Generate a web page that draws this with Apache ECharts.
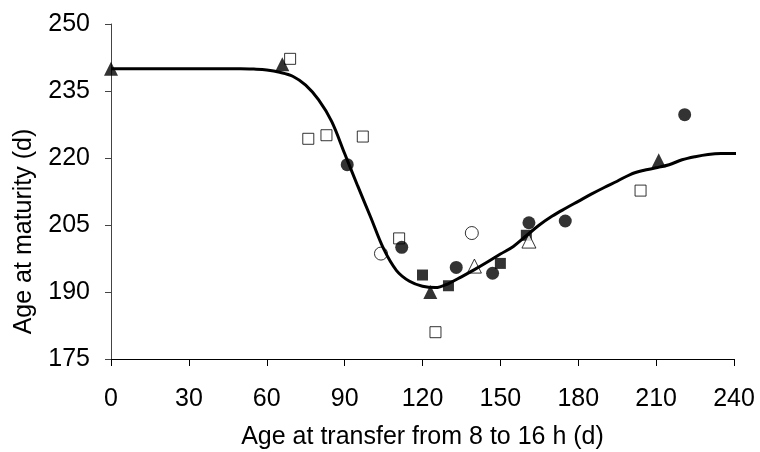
<!DOCTYPE html>
<html>
<head>
<meta charset="utf-8">
<script src="https://cdn.jsdelivr.net/npm/echarts@6/dist/echarts.min.js"></script>
<style>
  html, body { margin: 0; padding: 0; background: #fff; }
  #chart { width: 760px; height: 452px; }
</style>
</head>
<body>
<div id="chart"></div>
<script>
const xTicks = [0, 30, 60, 90, 120, 150, 180, 210, 240];
const yTicks = [175, 190, 205, 220, 235, 250];

const filledTriangle = [[0, 240], [66, 241], [123, 190], [211, 219.5]];
const openSquare = [[69, 242.2], [76, 224.3], [83, 225.1], [97, 224.8], [111, 202], [125, 181], [204, 212.7]];
const filledCircle = [[91, 218.5], [112, 200], [133, 195.5], [147, 194.2], [161, 205.5], [175, 205.9], [221, 229.7]];
const filledSquare = [[120, 193.8], [130, 191.4], [150, 196.4], [160, 202.7]];
const openCircle = [[104, 198.6], [139, 203.2]];
const openTriangle = [[140, 195.8], [161, 201.4]];

// fitted curve
const curveX = [0, 20, 40, 50, 55, 60, 65, 70, 75, 80, 85, 90, 95, 100, 105, 110, 115, 120, 125, 130, 135, 140, 145, 150, 155, 160, 165, 170, 175, 180, 185, 190, 195, 200, 205, 210, 215, 220, 225, 230, 235, 242];
const curveY = [240, 240, 240, 240, 239.9, 239.7, 239.2, 238.3, 236.3, 233, 228.2, 221, 213.8, 206.8, 199.7, 194.8, 192.4, 191.3, 191, 191.9, 193.4, 195, 196.7, 198.5, 200.2, 202.6, 205, 207, 208.7, 210.3, 211.9, 213.4, 214.8, 216.3, 217.2, 217.8, 218.5, 219.6, 220.3, 220.8, 221, 221];

const chart = echarts.init(document.getElementById('chart'));
const font = 'Liberation Sans, Arial, sans-serif';

function pts(name, data, symbol, size, filled) {
    return {
        name: name,
        type: 'scatter',
        data: data,
        symbol: symbol,
        symbolSize: size,
        z: 2,
        itemStyle: {
            color: filled ? '#000' : '#fff',
            borderColor: '#000',
            borderWidth: filled ? 0 : 1
        }
    };
}

const option = {
    animation: false,
    backgroundColor: '#fff',
    grid: { left: 111, right: 26, top: 24, bottom: 93, outerBoundsMode: 'none' },
    xAxis: {
        type: 'value',
        min: 0, max: 240, interval: 30,
        name: 'Age at transfer from 8 to 16 h (d)',
        nameLocation: 'middle',
        nameGap: 66,
        nameTextStyle: { fontFamily: font, fontSize: 25, color: '#000' },
        axisLine: { lineStyle: { color: '#000', width: 1 } },
        axisTick: { length: 7, lineStyle: { color: '#000' } },
        axisLabel: { margin: 28, fontFamily: font, fontSize: 25, color: '#000' },
        splitLine: { show: false }
    },
    yAxis: {
        type: 'value',
        min: 175, max: 250,
        name: 'Age at maturity (d)',
        nameLocation: 'middle',
        nameGap: 74,
        nameTextStyle: { fontFamily: font, fontSize: 25, color: '#000', padding: [0, 80, 0, 0] },
        axisLine: { show: true, lineStyle: { color: '#444', width: 1 } },
        axisTick: { show: true, length: 6, customValues: yTicks, lineStyle: { color: '#444' } },
        axisLabel: { margin: 21, fontFamily: font, fontSize: 25, color: '#000', customValues: yTicks },
        splitLine: { show: false }
    },
    series: [
        pts('open square', openSquare, 'rect', 11, false),
        pts('filled square', filledSquare, 'rect', 11, true),
        pts('filled circle', filledCircle, 'circle', 13, true),
        pts('open circle', openCircle, 'circle', 13, false),
        pts('filled triangle', filledTriangle, 'triangle', 14, true),
        pts('open triangle', openTriangle, 'triangle', 14, false),
        {
            name: 'fit',
            type: 'line',
            data: curveX.map((x, i) => [x, curveY[i]]),
            showSymbol: false,
            smooth: 0.35,
            clip: false,
            z: 3,
            lineStyle: { color: '#000', width: 3 }
        }
    ]
};

chart.setOption(option);
</script>
</body>
</html>
